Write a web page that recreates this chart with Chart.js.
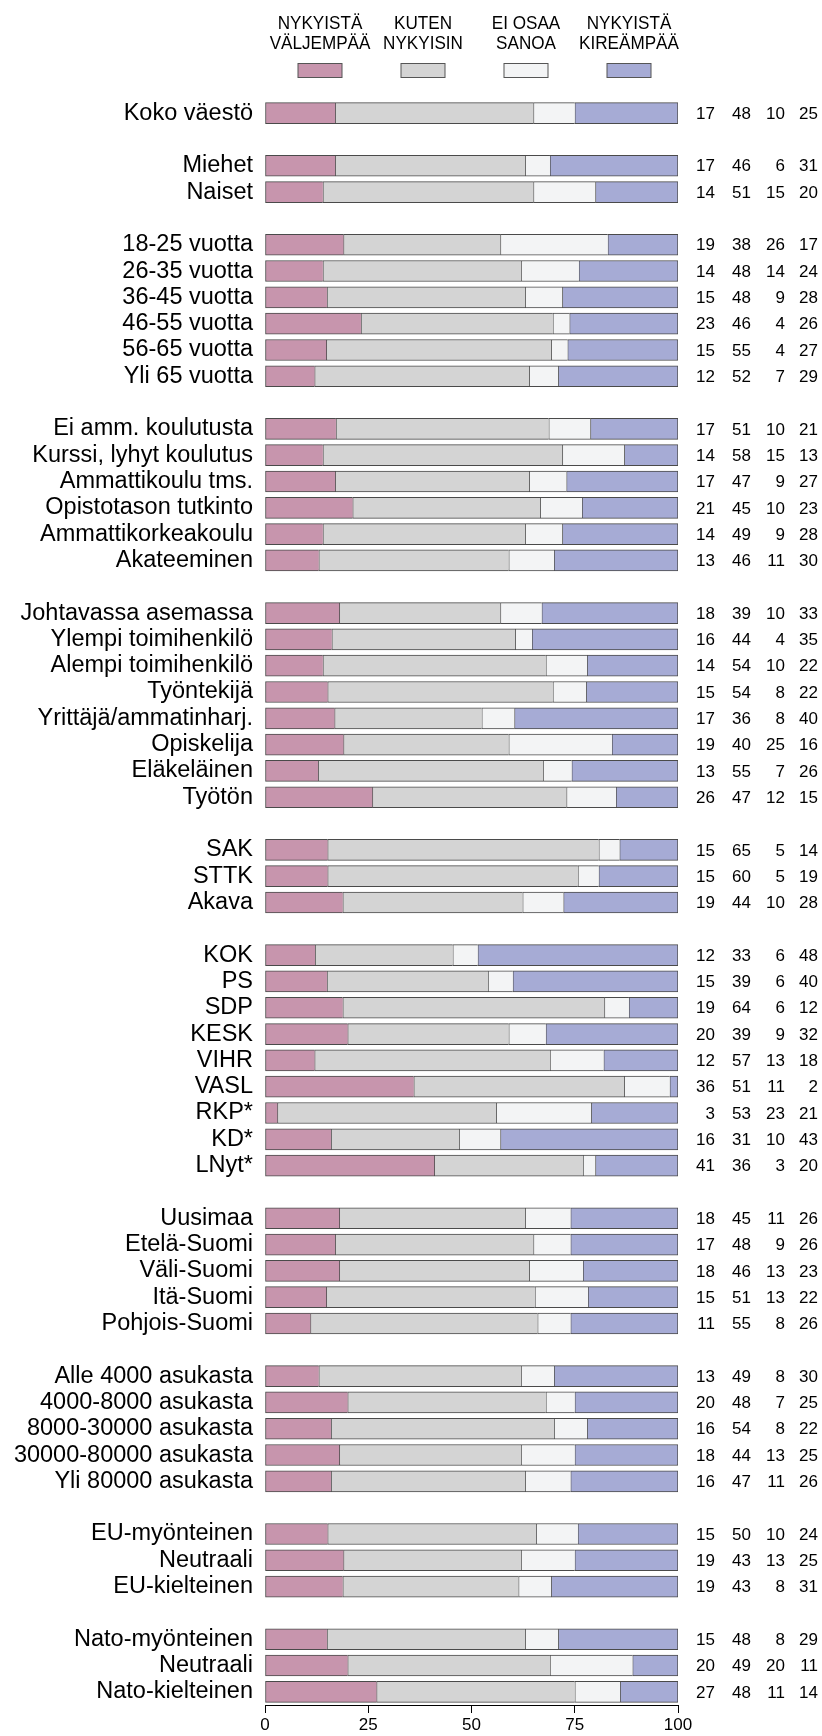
<!DOCTYPE html>
<html>
<head>
<meta charset="utf-8">
<script src="https://cdn.jsdelivr.net/npm/chart.js@4"></script>
<style>
  body { margin: 0; background: #fff; }
  canvas { display: block; }
</style>
</head>
<body>
<canvas id="myChart" width="822" height="1736"></canvas>
<script>
// rows of the chart, '' marks an empty spacer row between groups
const categories = [
    'Koko väestö', '',
    'Miehet', 'Naiset', '',
    '18-25 vuotta', '26-35 vuotta', '36-45 vuotta', '46-55 vuotta', '56-65 vuotta', 'Yli 65 vuotta', '',
    'Ei amm. koulutusta', 'Kurssi, lyhyt koulutus', 'Ammattikoulu tms.', 'Opistotason tutkinto', 'Ammattikorkeakoulu', 'Akateeminen', '',
    'Johtavassa asemassa', 'Ylempi toimihenkilö', 'Alempi toimihenkilö', 'Työntekijä', 'Yrittäjä/ammatinharj.', 'Opiskelija', 'Eläkeläinen', 'Työtön', '',
    'SAK', 'STTK', 'Akava', '',
    'KOK', 'PS', 'SDP', 'KESK', 'VIHR', 'VASL', 'RKP*', 'KD*', 'LNyt*', '',
    'Uusimaa', 'Etelä-Suomi', 'Väli-Suomi', 'Itä-Suomi', 'Pohjois-Suomi', '',
    'Alle 4000 asukasta', '4000-8000 asukasta', '8000-30000 asukasta', '30000-80000 asukasta', 'Yli 80000 asukasta', '',
    'EU-myönteinen', 'Neutraali', 'EU-kielteinen', '',
    'Nato-myönteinen', 'Neutraali', 'Nato-kielteinen'
];

const valjempaa = [
    17, null,
    17, 14, null,
    19, 14, 15, 23, 15, 12, null,
    17, 14, 17, 21, 14, 13, null,
    18, 16, 14, 15, 17, 19, 13, 26, null,
    15, 15, 19, null,
    12, 15, 19, 20, 12, 36, 3, 16, 41, null,
    18, 17, 18, 15, 11, null,
    13, 20, 16, 18, 16, null,
    15, 19, 19, null,
    15, 20, 27
];

const kutenNykyisin = [
    48, null,
    46, 51, null,
    38, 48, 48, 46, 55, 52, null,
    51, 58, 47, 45, 49, 46, null,
    39, 44, 54, 54, 36, 40, 55, 47, null,
    65, 60, 44, null,
    33, 39, 64, 39, 57, 51, 53, 31, 36, null,
    45, 48, 46, 51, 55, null,
    49, 48, 54, 44, 47, null,
    50, 43, 43, null,
    48, 49, 48
];

const eiOsaaSanoa = [
    10, null,
    6, 15, null,
    26, 14, 9, 4, 4, 7, null,
    10, 15, 9, 10, 9, 11, null,
    10, 4, 10, 8, 8, 25, 7, 12, null,
    5, 5, 10, null,
    6, 6, 6, 9, 13, 11, 23, 10, 3, null,
    11, 9, 13, 13, 8, null,
    8, 7, 8, 13, 11, null,
    10, 13, 8, null,
    8, 20, 11
];

const kireampaa = [
    25, null,
    31, 20, null,
    17, 24, 28, 26, 27, 29, null,
    21, 13, 27, 23, 28, 30, null,
    33, 35, 22, 22, 40, 16, 26, 15, null,
    14, 19, 28, null,
    48, 40, 12, 32, 18, 2, 21, 43, 20, null,
    26, 26, 23, 22, 26, null,
    30, 25, 22, 25, 26, null,
    24, 25, 31, null,
    29, 11, 14
];

const seriesNames = [
    ['NYKYISTÄ', 'VÄLJEMPÄÄ'],
    ['KUTEN', 'NYKYISIN'],
    ['EI OSAA', 'SANOA'],
    ['NYKYISTÄ', 'KIREÄMPÄÄ']
];
const seriesValues = [valjempaa, kutenNykyisin, eiOsaaSanoa, kireampaa];
const colors = ['#c795ad', '#d4d4d4', '#f3f4f5', '#a6abd5'];

const xTicks = [0, 25, 50, 75, 100];

// printed numbers are rounded, scale each row so the bar fills 0..100
function rowShares(values) {
    return values.map((v, i) => {
        if (v === null) return null;
        const total = seriesValues.reduce((s, arr) => s + arr[i], 0);
        return v * 100 / total;
    });
}

const FONT = "'Liberation Sans', Arial, sans-serif";

// legend at the top: two-line caption with a small box under it
const topLegend = {
    id: 'topLegend',
    afterDraw(chart) {
        const ctx = chart.ctx;
        const centers = [320, 423, 526, 629];
        ctx.save();
        chart.data.datasets.forEach((ds, i) => {
            const cx = centers[i];
            ctx.fillStyle = '#000';
            ctx.font = '19px ' + FONT;
            ctx.textAlign = 'center';
            ctx.textBaseline = 'alphabetic';
            seriesNames[i].forEach((line, j) => {
                ctx.save();
                ctx.translate(cx, 29 + j * 19.5);
                ctx.scale(0.9, 1);
                ctx.fillText(line, 0, 0);
                ctx.restore();
            });
            ctx.fillStyle = ds.backgroundColor;
            ctx.fillRect(cx - 22, 63.5, 44, 14);
            ctx.strokeStyle = '#555';
            ctx.lineWidth = 1;
            ctx.strokeRect(cx - 22, 63.5, 44, 14);
        });
        ctx.restore();
    }
};

// the four values printed to the right of each bar
const rowNumbers = {
    id: 'rowNumbers',
    afterDraw(chart) {
        const ctx = chart.ctx;
        const yScale = chart.scales.y;
        const cols = [715, 751, 785, 818];
        ctx.save();
        ctx.fillStyle = '#000';
        ctx.font = '17px ' + FONT;
        ctx.textAlign = 'right';
        ctx.textBaseline = 'middle';
        categories.forEach((cat, i) => {
            if (valjempaa[i] === null) return;
            const y = yScale.getPixelForValue(i);
            seriesValues.forEach((arr, j) => {
                ctx.fillText(String(arr[i]), cols[j], y + 1);
            });
        });
        ctx.restore();
    }
};

const datasets = seriesValues.map((arr, i) => ({
    label: seriesNames[i].join(' '),
    data: rowShares(arr),
    backgroundColor: colors[i],
    borderColor: '#4a4a4a',
    borderWidth: i === 3 ? 1 : { top: 1, bottom: 1, left: 1, right: 0 },
    borderSkipped: false,
    barThickness: 21
}));

new Chart(document.getElementById('myChart').getContext('2d'), {
    type: 'bar',
    data: { labels: categories, datasets: datasets },
    options: {
        responsive: false,
        animation: false,
        indexAxis: 'y',
        layout: { padding: { top: 100, right: 144, bottom: 0, left: 0 } },
        plugins: {
            legend: { display: false },
            tooltip: { enabled: false }
        },
        scales: {
            x: {
                stacked: true,
                min: 0,
                max: 100,
                afterBuildTicks: scale => { scale.ticks = xTicks.map(v => ({ value: v })); },
                afterFit: scale => { scale.height = 31; },
                grid: { drawOnChartArea: false, tickLength: 8, color: '#000', tickWidth: 1 },
                border: { display: true, color: '#000', width: 1 },
                ticks: { color: '#000', padding: 2, font: { family: FONT, size: 17 } }
            },
            y: {
                stacked: true,
                afterFit: scale => { scale.width = 265; },
                grid: { display: false, drawTicks: false },
                border: { display: false },
                ticks: { color: '#000', padding: 12, autoSkip: false, font: { family: FONT, size: 23.5 } }
            }
        }
    },
    plugins: [topLegend, rowNumbers]
});
</script>
</body>
</html>
